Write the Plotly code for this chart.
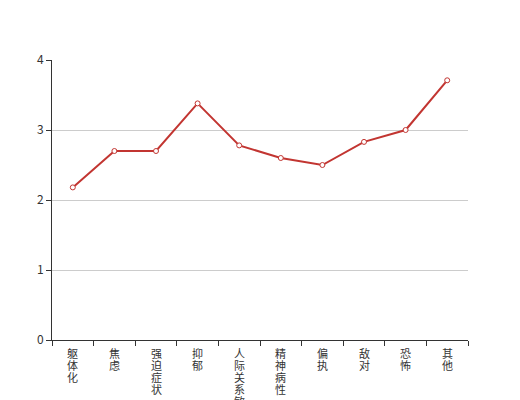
import plotly.graph_objects as go

categories = ["躯体化", "焦虑", "强迫症状", "抑郁", "人际关系敏感", "精神病性", "偏执", "敌对", "恐怖", "其他"]
values = [2.18, 2.70, 2.70, 3.38, 2.78, 2.60, 2.50, 2.83, 3.00, 3.71]
y_ticks = [0, 1, 2, 3, 4]

font = "Noto Sans CJK SC, Noto Sans, sans-serif"

fig = go.Figure()
fig.add_trace(go.Scatter(
    x=categories, y=values, mode="lines+markers",
    line=dict(color="#c23531", width=2),
    marker=dict(symbol="circle", size=5, color="#ffffff",
                line=dict(color="#c23531", width=1)),
    hoverinfo="x+y", showlegend=False,
))

# vertical category labels: one character per line, 12px line pitch
annotations = []
for cat in categories:
    for k, ch in enumerate(cat):
        annotations.append(dict(
            x=cat, y=0, xref="x", yref="y", yanchor="top", xanchor="center",
            yshift=-3 - 12 * k, text=ch, showarrow=False,
            font=dict(family=font, size=11, color="#333333"),
        ))

fig.update_layout(
    width=520, height=400,
    margin=dict(l=44, r=60, t=52, b=68),
    paper_bgcolor="#ffffff", plot_bgcolor="#ffffff",
    font=dict(family=font, size=12, color="#333333"),
    annotations=annotations,
    xaxis=dict(
        type="category", range=[-0.5, len(categories) - 0.5],
        tickmode="array", tickvals=categories, showticklabels=False,
        tickson="boundaries", ticks="outside", ticklen=5, tickcolor="#333333",
        showline=True, linecolor="#333333", linewidth=1,
        showgrid=False, zeroline=False, automargin=False,
    ),
    yaxis=dict(
        range=[0, 4], tickvals=y_ticks,
        ticks="outside", ticklen=5, tickcolor="#333333",
        showline=True, linecolor="#333333", linewidth=1,
        showgrid=True, gridcolor="#cccccc", gridwidth=1,
        zeroline=False, automargin=False,
        tickfont=dict(size=12, color="#333333"),
    ),
)

fig.write_html("out.html")
